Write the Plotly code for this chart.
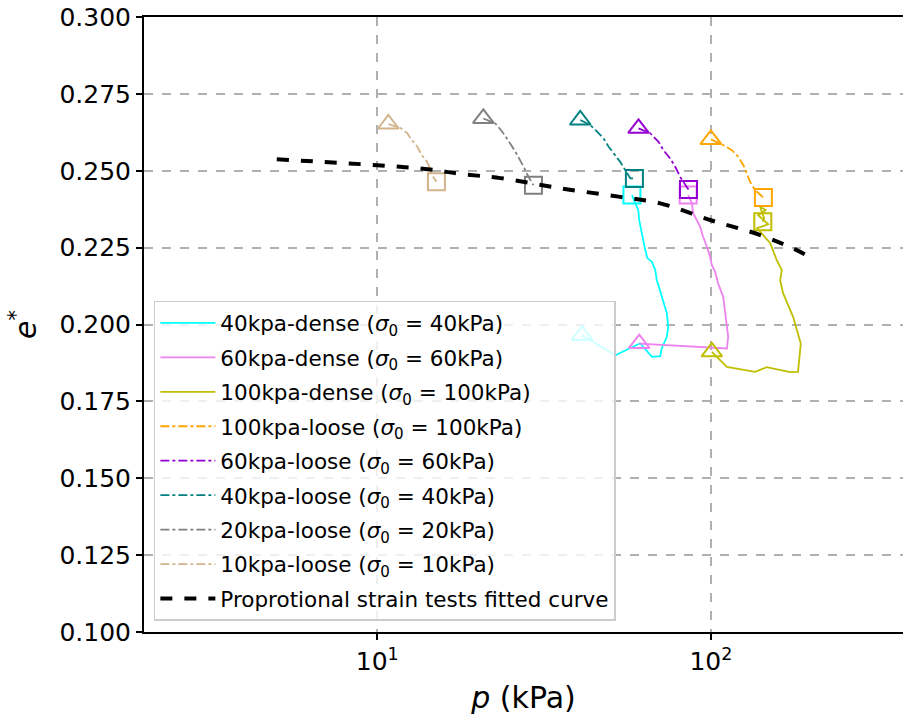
import plotly.graph_objects as go
import numpy as np

# ---------------- data ----------------
p_40d = [41.1, 51.7, 61.4, 66.6, 70.5, 71.3, 73.8, 74.5, 73.8, 71.3, 68.9, 68.1, 66.6, 64.5, 63.6, 62.1, 61.0, 60.6, 58.9, 58.0]
e_40d = [0.1965, 0.1900, 0.1939, 0.1895, 0.1897, 0.1923, 0.1960, 0.1992, 0.2037, 0.2090, 0.2144, 0.2177, 0.2204, 0.2216, 0.2242, 0.2297, 0.2339, 0.2372, 0.2405, 0.2421]

p_60d = [61.0, 111.7, 112.7, 111.7, 110.4, 108.9, 105.1, 103.0, 100.7, 99.5, 97.3, 94.8, 92.9, 90.8, 88.5, 87.7, 85.5]
e_60d = [0.1938, 0.1922, 0.1960, 0.1992, 0.2047, 0.2090, 0.2134, 0.2171, 0.2193, 0.2220, 0.2253, 0.2285, 0.2318, 0.2339, 0.2362, 0.2395, 0.2421]

p_100d = [100.7, 111.7, 135.7, 147.1, 172.8, 182.5, 186.0, 176.4, 164.6, 161.3, 163.2, 157.6, 150.5, 143.5, 137.6, 148.5, 138.6, 146.4, 140.5, 144.4, 143.1]
e_100d = [0.1911, 0.1862, 0.1846, 0.1861, 0.1845, 0.1846, 0.1938, 0.2025, 0.2102, 0.2144, 0.2177, 0.2209, 0.2265, 0.2291, 0.2313, 0.2326, 0.2356, 0.2372, 0.2382, 0.2346, 0.2334]

p_100l = [100.0, 109.1, 115.6, 120.9, 125.2, 128.2, 131.1, 135.7, 143.7]
e_100l = [0.2602, 0.2583, 0.2567, 0.2545, 0.2518, 0.2491, 0.2464, 0.2437, 0.2413]

p_60l = [60.7, 65.8, 69.7, 72.1, 75.5, 78.2, 80.9, 83.8, 85.7]
e_60l = [0.2638, 0.2622, 0.2594, 0.2567, 0.2540, 0.2513, 0.2480, 0.2453, 0.2439]

p_40l = [40.6, 43.5, 45.6, 47.7, 49.4, 51.7, 53.5, 55.4, 57.4, 59.0]
e_40l = [0.2665, 0.2649, 0.2627, 0.2605, 0.2578, 0.2551, 0.2529, 0.2502, 0.2475, 0.2475]

p_20l = [20.8, 22.6, 23.7, 24.5, 25.4, 26.3, 27.2, 27.8, 28.4, 29.4]
e_20l = [0.2670, 0.2654, 0.2627, 0.2605, 0.2578, 0.2551, 0.2524, 0.2502, 0.2480, 0.2453]

p_10l = [10.8, 11.8, 12.3, 12.7, 13.2, 13.6, 14.1, 14.4, 14.6, 15.05]
e_10l = [0.2652, 0.2638, 0.2622, 0.2600, 0.2578, 0.2551, 0.2529, 0.2508, 0.2486, 0.2464]

p_fit = [5.0, 10.0, 14.4, 17.7, 23.4, 35.4, 53.5, 70.5, 100.0, 140.6, 176.6, 196.0]
e_fit = [0.2537, 0.2518, 0.2504, 0.2490, 0.2476, 0.2443, 0.2415, 0.2394, 0.2339, 0.2291, 0.2247, 0.2222]

y_ticks = [0.100, 0.125, 0.150, 0.175, 0.200, 0.225, 0.250, 0.275, 0.300]
x_tickvals = [10, 100]
x_ticktext = ["10<sup>1</sup>", "10<sup>2</sup>"]

series = [
    ("40kpa-dense", "40", p_40d, e_40d, "#00FFFF", "solid"),
    ("60kpa-dense", "60", p_60d, e_60d, "#EE82EE", "solid"),
    ("100kpa-dense", "100", p_100d, e_100d, "#BFBF00", "solid"),
    ("100kpa-loose", "100", p_100l, e_100l, "#FFA500", "dashdot"),
    ("60kpa-loose", "60", p_60l, e_60l, "#9400D3", "dashdot"),
    ("40kpa-loose", "40", p_40l, e_40l, "#008080", "dashdot"),
    ("20kpa-loose", "20", p_20l, e_20l, "#808080", "dashdot"),
    ("10kpa-loose", "10", p_10l, e_10l, "#D2B48C", "dashdot"),
]

FONT = "DejaVu Sans"
fig = go.Figure()

for i, (name, s0, px, ey, col, dash) in enumerate(series):
    fig.add_trace(go.Scatter(
        x=px, y=ey, mode="lines",
        name=f"{name} (<i>σ</i><sub>0</sub> = {s0}kPa)",
        line=dict(color=col, width=1.8, dash=dash),
        legendgroup=f"g{i}",
    ))
    fig.add_trace(go.Scatter(
        x=[px[0]], y=[ey[0]], mode="markers", showlegend=False,
        marker=dict(symbol="triangle-up-open", size=18, color=col, line=dict(width=2, color=col)),
        legendgroup=f"g{i}",
    ))
    fig.add_trace(go.Scatter(
        x=[px[-1]], y=[ey[-1]], mode="markers", showlegend=False,
        marker=dict(symbol="square-open", size=17, color=col, line=dict(width=2, color=col)),
        legendgroup=f"g{i}",
    ))

fig.add_trace(go.Scatter(
    x=p_fit, y=e_fit, mode="lines", line_shape="spline",
    name="Proprotional strain tests fitted curve",
    line=dict(color="black", width=4, dash="dash"),
    legendgroup="gfit",
))

fig.update_layout(
    width=903, height=715,
    margin=dict(l=144, r=0, t=17, b=83),
    paper_bgcolor="white", plot_bgcolor="white",
    font=dict(family=FONT, color="black"),
    legend=dict(
        x=0.013, y=0.018, xanchor="left", yanchor="bottom",
        bgcolor="rgba(255,255,255,0.8)", bordercolor="#cccccc", borderwidth=1.5,
        font=dict(size=21.5, family=FONT), tracegroupgap=3.5, itemwidth=55,
    ),
)

fig.update_xaxes(
    type="log", range=[np.log10(2.0), np.log10(376.6)],
    tickvals=x_tickvals, ticktext=x_ticktext,
    tickfont=dict(size=25, family=FONT),
    ticks="outside", ticklen=6, tickwidth=1.5, tickcolor="black",
    showline=True, linecolor="black", linewidth=2, mirror=True,
    showgrid=True, gridcolor="#b0b0b0", gridwidth=1.5, griddash="dash",
    zeroline=False,
    title=dict(text="<i>p</i> (kPa)", font=dict(size=30, family=FONT), standoff=12),
)
fig.update_yaxes(
    range=[0.1, 0.3], tickvals=y_ticks, ticktext=[f"{v:.3f}" for v in y_ticks],
    tickfont=dict(size=25, family=FONT),
    ticks="outside", ticklen=6, tickwidth=1.5, tickcolor="black",
    showline=True, linecolor="black", linewidth=2, mirror=False,
    showgrid=True, gridcolor="#b0b0b0", gridwidth=1.5, griddash="dash",
    zeroline=False,
    title=dict(text="<i>e</i><sup>*</sup>", font=dict(size=30, family=FONT), standoff=14),
)

fig.write_html("out.html")
